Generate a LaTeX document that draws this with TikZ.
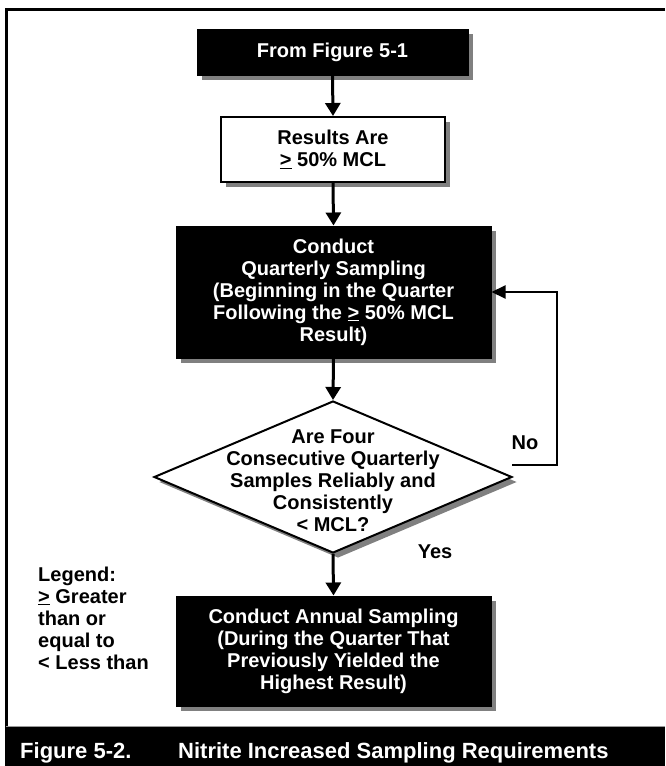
\documentclass[tikz,border=0pt]{standalone}
\usepackage{fontspec}
\setmainfont{Liberation Sans}
\usetikzlibrary{arrows.meta,shapes.geometric,shadows}
\newcommand{\gequl}{\underline{>}}
\begin{document}
\begin{tikzpicture}[x=1pt,y=-1pt,
  font=\bfseries\fontsize{20}{22}\selectfont,
  shade/.style={drop shadow={shadow xshift=5pt,shadow yshift=-5pt,fill=black!50,opacity=1}},
  darkbox/.style={shade,draw=black,fill=black,text=white,align=center,inner sep=0pt,line width=1pt},
  lightbox/.style={shade,draw=black,fill=white,align=center,inner sep=0pt,line width=2pt},
  decisionbox/.style={shade,diamond,draw=black,fill=white,inner sep=0pt,line width=2pt},
  plain/.style={align=center,inner sep=0pt},
  flow/.style={line width=3pt,-{Triangle[length=13pt,width=15pt]}},
  loopback/.style={line width=2pt,-{Triangle[length=14pt,width=13pt]}},
  caption/.style={text=white,inner sep=0pt,anchor=base west,font=\bfseries\fontsize{22}{24}\selectfont}
]
\useasboundingbox (0,0) rectangle (665,766);

% frame and caption bar
\draw[line width=3pt] (665,9) -- (6,9) -- (6,727);
\fill[black] (4.5,727) rectangle (665,766);
\draw[black!40,line width=1pt] (6,726.5) -- (665,726.5);
\node[caption] (fignum) at (20,758) {Figure 5-2.};
\node[caption] (figtitle) at (178,758) {Nitrite Increased Sampling Requirements};

% flow chart boxes
\node[darkbox,minimum width=271pt,minimum height=46pt] (from) at (332.5,52) {From Figure 5-1};
\node[lightbox,minimum width=224pt,minimum height=65pt] (results) at (333,149.5) {Results Are\\\gequl{} 50\% MCL};
\node[darkbox,minimum width=315pt,minimum height=132pt] (quarterly) at (333.5,292)
  {Conduct\\Quarterly Sampling\\(Beginning in the Quarter\\Following the \gequl{} 50\% MCL\\Result)};
\node[decisionbox,minimum width=358pt,minimum height=152pt] (decision) at (333,477) {};
\node[plain] (decisiontext) at (333,481)
  {Are Four\\Consecutive Quarterly\\Samples Reliably and\\Consistently\\< MCL?};
\node[darkbox,minimum width=315pt,minimum height=110pt] (annual) at (333.5,651)
  {Conduct Annual Sampling\\(During the Quarter That\\Previously Yielded the\\Highest Result)};

% connectors
\draw[flow] (from.south) -- (results.north);
\draw[flow] (results.south) -- (quarterly.north);
\draw[flow] (quarterly.south) -- (decision.north);
\draw[flow] (decision.south) -- (annual.north);
\coordinate (noexit) at (512,465);
\draw[loopback] (noexit) -- ++(45,0) |- (quarterly.east);

% branch labels
\node[plain] (nolabel) at (525,443) {No};
\node[plain] (yeslabel) at (435,552) {Yes};

% legend
\node[plain,align=left,anchor=west] (legend) at (38,618)
  {Legend:\\\gequl{} Greater\\than or\\equal to\\< Less than};
\end{tikzpicture}
\end{document}
